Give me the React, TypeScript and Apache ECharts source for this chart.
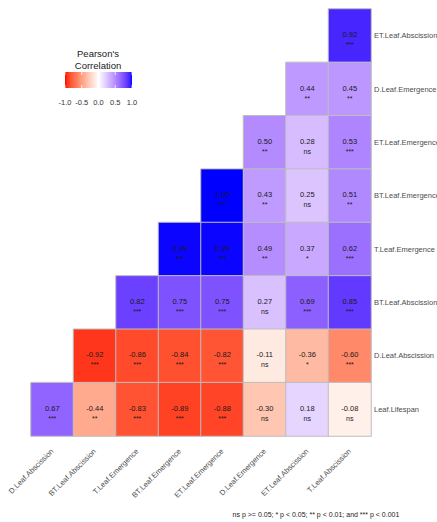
import React, { useEffect, useRef } from "react";
import * as echarts from "echarts";

const xLabels = [
  "D.Leaf.Abscission",
  "BT.Leaf.Abscission",
  "T.Leaf.Emergence",
  "BT.Leaf.Emergence",
  "ET.Leaf.Emergence",
  "D.Leaf.Emergence",
  "ET.Leaf.Abscission",
  "T.Leaf.Abscission",
];

// rows, top to bottom
const yLabels = [
  "ET.Leaf.Abscission",
  "D.Leaf.Emergence",
  "ET.Leaf.Emergence",
  "BT.Leaf.Emergence",
  "T.Leaf.Emergence",
  "BT.Leaf.Abscission",
  "D.Leaf.Abscission",
  "Leaf.Lifespan",
];

const rowETLeafAbscission = [null, null, null, null, null, null, null, 0.92];
const rowDLeafEmergence = [null, null, null, null, null, null, 0.44, 0.45];
const rowETLeafEmergence = [null, null, null, null, null, 0.5, 0.28, 0.53];
const rowBTLeafEmergence = [null, null, null, null, 1.0, 0.43, 0.25, 0.51];
const rowTLeafEmergence = [null, null, null, 0.99, 0.99, 0.49, 0.37, 0.62];
const rowBTLeafAbscission = [null, null, 0.82, 0.75, 0.75, 0.27, 0.69, 0.85];
const rowDLeafAbscission = [null, -0.92, -0.86, -0.84, -0.82, -0.11, -0.36, -0.6];
const rowLeafLifespan = [0.67, -0.44, -0.83, -0.89, -0.88, -0.3, 0.18, -0.08];

const sigETLeafAbscission = ["", "", "", "", "", "", "", "***"];
const sigDLeafEmergence = ["", "", "", "", "", "", "**", "**"];
const sigETLeafEmergence = ["", "", "", "", "", "**", "ns", "***"];
const sigBTLeafEmergence = ["", "", "", "", "***", "**", "ns", "**"];
const sigTLeafEmergence = ["", "", "", "***", "***", "**", "*", "***"];
const sigBTLeafAbscission = ["", "", "***", "***", "***", "ns", "***", "***"];
const sigDLeafAbscission = ["", "***", "***", "***", "***", "ns", "*", "***"];
const sigLeafLifespan = ["***", "**", "***", "***", "***", "ns", "ns", "ns"];

const legendTicks = [-1.0, -0.5, 0.0, 0.5, 1.0];

const valueRows = [
  rowETLeafAbscission,
  rowDLeafEmergence,
  rowETLeafEmergence,
  rowBTLeafEmergence,
  rowTLeafEmergence,
  rowBTLeafAbscission,
  rowDLeafAbscission,
  rowLeafLifespan,
];
const sigRows = [
  sigETLeafAbscission,
  sigDLeafEmergence,
  sigETLeafEmergence,
  sigBTLeafEmergence,
  sigTLeafEmergence,
  sigBTLeafAbscission,
  sigDLeafAbscission,
  sigLeafLifespan,
];

// ---- Lab interpolation (like ggplot's gradient2) ----
function toLin(c: number) {
  c /= 255;
  return c <= 0.04045 ? c / 12.92 : Math.pow((c + 0.055) / 1.055, 2.4);
}
function fromLin(c: number) {
  const v = c <= 0.0031308 ? 12.92 * c : 1.055 * Math.pow(c, 1 / 2.4) - 0.055;
  return Math.round(Math.max(0, Math.min(1, v)) * 255);
}
const Xn = 0.95047, Yn = 1, Zn = 1.08883;
function f(t: number) {
  return t > 0.008856 ? Math.cbrt(t) : 7.787 * t + 16 / 116;
}
function finv(t: number) {
  const t3 = t * t * t;
  return t3 > 0.008856 ? t3 : (t - 16 / 116) / 7.787;
}
function rgbToLab(rgb: number[]) {
  const r = toLin(rgb[0]), g = toLin(rgb[1]), b = toLin(rgb[2]);
  const X = 0.4124564 * r + 0.3575761 * g + 0.1804375 * b;
  const Y = 0.2126729 * r + 0.7151522 * g + 0.072175 * b;
  const Z = 0.0193339 * r + 0.119192 * g + 0.9503041 * b;
  const fx = f(X / Xn), fy = f(Y / Yn), fz = f(Z / Zn);
  return [116 * fy - 16, 500 * (fx - fy), 200 * (fy - fz)];
}
function labToHex(lab: number[]) {
  const fy = (lab[0] + 16) / 116;
  const fx = fy + lab[1] / 500;
  const fz = fy - lab[2] / 200;
  const X = finv(fx) * Xn, Y = finv(fy) * Yn, Z = finv(fz) * Zn;
  const r = 3.2404542 * X - 1.5371385 * Y - 0.4985314 * Z;
  const g = -0.969266 * X + 1.8760108 * Y + 0.041556 * Z;
  const b = 0.0556434 * X - 0.2040259 * Y + 1.0572252 * Z;
  const h = (n: number) => n.toString(16).padStart(2, "0");
  return "#" + h(fromLin(r)) + h(fromLin(g)) + h(fromLin(b));
}
const LOW = rgbToLab([255, 0, 0]);
const MID = rgbToLab([255, 255, 255]);
const HIGH = rgbToLab([0, 0, 255]);
function colorAt(v: number) {
  const end = v < 0 ? LOW : HIGH;
  const t = Math.abs(v);
  return labToHex([0, 1, 2].map((i) => MID[i] + (end[i] - MID[i]) * t));
}
const palette: string[] = [];
const NSTOP = 40;
for (let i = 0; i <= NSTOP; i++) palette.push(colorAt(-1 + (2 * i) / NSTOP));

const FONT = "'Liberation Sans', Arial, sans-serif";

export default function App() {
  const ref = useRef<HTMLDivElement>(null);
  useEffect(() => {
    document.body.style.margin = "0";
    if (!ref.current) return;
    const chart = echarts.init(ref.current, undefined, { renderer: "svg" });

    const data: any[] = [];
    valueRows.forEach((row, yi) => {
      row.forEach((v, xi) => {
        if (v !== null && v !== undefined) data.push([xi, yi, v, sigRows[yi][xi]]);
      });
    });

    const barX = 65, barY = 72, barW = 67, barH = 16;
    const legendGraphics: any[] = [
      { type: "text", x: 98, y: 53, style: { text: "Pearson's", font: `9.5px ${FONT}`, fill: "#1a1a1a", textAlign: "center", textVerticalAlign: "middle" } },
      { type: "text", x: 98, y: 65, style: { text: "Correlation", font: `9.5px ${FONT}`, fill: "#1a1a1a", textAlign: "center", textVerticalAlign: "middle" } },
      {
        type: "rect",
        shape: { x: barX, y: barY, width: barW, height: barH },
        style: {
          fill: new echarts.graphic.LinearGradient(0, 0, 1, 0,
            palette.map((c, i) => ({ offset: i / NSTOP, color: c }))),
        },
      },
    ];
    legendTicks.forEach((t) => {
      const x = barX + ((t + 1) / 2) * barW;
      legendGraphics.push(
        { type: "line", shape: { x1: x, y1: barY, x2: x, y2: barY + 3 }, style: { stroke: "#fff", lineWidth: 0.8 } },
        { type: "line", shape: { x1: x, y1: barY + barH - 3, x2: x, y2: barY + barH }, style: { stroke: "#fff", lineWidth: 0.8 } },
        { type: "text", x, y: 102, style: { text: t.toFixed(1), font: `7.5px ${FONT}`, fill: "#333", textAlign: "center", textVerticalAlign: "middle" } }
      );
    });
    legendGraphics.push({
      type: "text", x: 316, y: 514,
      style: { text: "ns p >= 0.05; * p < 0.05; ** p < 0.01; and *** p < 0.001", font: `7px ${FONT}`, fill: "#1a1a1a", textAlign: "center", textVerticalAlign: "middle" },
    });

    chart.setOption({
      animation: false,
      textStyle: { fontFamily: FONT },
      grid: { left: 31, right: 66, top: 9, bottom: 86, containLabel: false, outerBoundsMode: "none" },
      xAxis: {
        type: "category",
        data: xLabels,
        axisLine: { show: false },
        axisTick: { show: false },
        splitLine: { show: false },
        axisLabel: { rotate: 45, interval: 0, margin: 14, fontSize: 7.5, color: "#4d4d4d", fontFamily: FONT },
      },
      yAxis: {
        type: "category",
        data: yLabels,
        inverse: true,
        position: "right",
        axisLine: { show: false },
        axisTick: { show: false },
        splitLine: { show: false },
        axisLabel: { interval: 0, margin: 3, fontSize: 7.5, color: "#4d4d4d", fontFamily: FONT },
      },
      visualMap: {
        type: "continuous",
        show: false,
        min: -1,
        max: 1,
        dimension: 2,
        inRange: { color: palette },
      },
      series: [
        {
          type: "heatmap",
          data,
          itemStyle: { borderColor: "#bdbdbd", borderWidth: 1 },
          emphasis: { disabled: true },
          label: {
            show: true,
            formatter: (p: any) => `{v|${(p.data[2] as number).toFixed(2)}}\n{s|${p.data[3]}}`,
            rich: {
              v: { fontSize: 7.5, color: "#1a1a1a", fontFamily: FONT, lineHeight: 10 },
              s: { fontSize: 7, color: "#1a1a1a", fontFamily: FONT, lineHeight: 10 },
            },
            offset: [0, 4],
          },
        },
      ],
      graphic: legendGraphics,
    });
    return () => chart.dispose();
  }, []);
  return <div ref={ref} style={{ width: 437, height: 522 }} />;
}
